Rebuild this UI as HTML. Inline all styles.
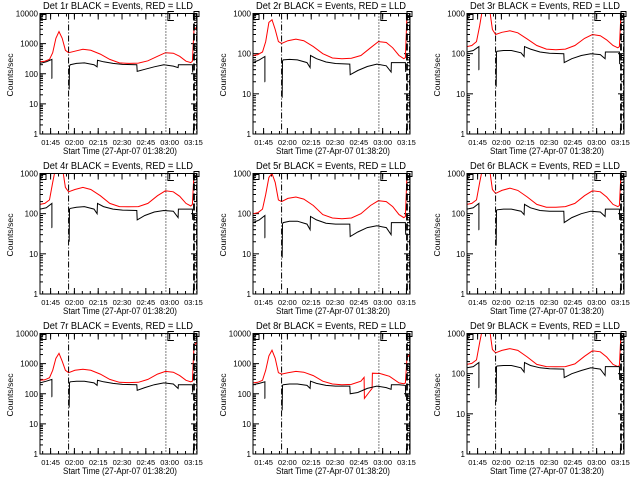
<!DOCTYPE html>
<html><head><meta charset="utf-8">
<style>
html,body{margin:0;padding:0;background:#fff;}
svg{display:block;font-family:"Liberation Sans",sans-serif;}
</style></head>
<body>
<svg id="chart" width="640" height="480" viewBox="0 0 640 480" xmlns="http://www.w3.org/2000/svg">
<rect x="0" y="0" width="640" height="480" fill="#fff"/>
</svg>
<script>
// ---- data (minutes since 01:38:20, counts/sec) ----
const panelNames = ["Det 1r","Det 2r","Det 3r","Det 4r","Det 5r","Det 6r","Det 7r","Det 8r","Det 9r"];
const panelDecades = [4,3,3,3,3,3,4,4,3];
const xTickLabels = ["01:45","02:00","02:15","02:30","02:45","03:00","03:15"];
const xTickMinutes = [6.67,21.67,36.67,51.67,66.67,81.67,96.67];
const redTimes = [0,3,6,8,10,12,14,16,18,22,27,32,38,44,50,56,62,68,74,79,84,88,92,95,96,97,98.8];
const redTimes8 = [0,3,6,8,10,12,14,16,18,22,27,32,38,44,50,56,62,68,70,70.2,73,75,75.2,80,86,92,95,96,97,98.8];
const red1 = [250,260,300,500,1500,2500,1500,600,500,560,650,600,450,300,230,220,225,270,380,500,480,380,260,235,260,3000,3500];
const red2 = [90,95,110,200,600,700,400,200,180,210,230,210,150,100,78,75,77,90,140,200,190,140,90,75,80,1000,1000];
const red3 = [150,160,200,500,1500,2500,1500,400,300,340,370,330,230,160,130,125,130,160,240,300,280,220,160,140,150,1000,1000];
const red4 = [170,180,220,600,1500,2500,1500,450,350,400,450,400,280,180,150,148,150,180,280,370,350,270,180,155,170,1000,1000];
const red5 = [100,105,130,300,800,1000,600,220,200,240,260,230,160,95,78,75,78,100,160,210,200,150,95,80,85,1000,1000];
const red6 = [170,180,220,600,1500,2500,1500,400,320,380,430,380,260,170,145,145,150,180,280,370,350,260,170,150,160,1000,1000];
const red7 = [280,290,340,600,1500,2200,1200,600,500,600,650,600,450,300,240,235,240,300,450,550,520,400,280,250,260,4000,5000];
const red8 = [230,240,280,600,1800,2800,1500,500,450,500,550,520,400,260,210,200,205,260,350,70,110,150,480,470,380,230,215,230,1600,2000];
const red9 = [170,180,220,600,1500,2500,1500,400,330,380,420,380,260,170,150,148,150,175,270,370,350,260,170,150,160,1000,1000];
const blackTimes = [0,4,7.5,7.5,7.6,12,18.4,18.6,19,23,28,34,36,36.2,40,46,52,61,61.2,66,72,78,84,87,87.2,92,96,96.2];
const black1 = [220,250,300,70,70,null,30,180,200,220,230,200,170,280,250,220,205,200,120,140,170,200,180,160,200,200,200,110];
const black2 = [60,70,85,20,20,null,8,65,70,72,70,60,45,90,75,62,57,55,30,38,48,55,50,35,60,60,60,35];
const black3 = [110,120,150,40,40,null,15,110,115,120,120,105,85,150,130,110,102,100,60,75,90,100,95,75,110,110,110,55];
const black4 = [130,140,180,45,45,null,20,130,135,145,150,130,100,180,150,130,123,120,70,90,110,120,115,80,130,130,130,70];
const black5 = [60,70,90,25,25,null,8,55,60,65,65,55,40,85,70,58,55,55,27,35,45,50,45,30,60,60,60,30];
const black6 = [130,140,180,40,40,null,16,120,125,130,130,115,95,170,140,120,115,115,60,80,100,115,110,85,130,130,130,70];
const black7 = [230,260,300,80,80,null,35,230,250,260,260,230,190,280,250,220,205,200,130,160,200,230,210,150,200,200,200,110];
const black8 = [200,220,250,70,70,null,28,190,200,210,210,190,150,260,220,190,180,180,100,110,150,180,160,140,200,200,190,80];
const black9 = [140,150,190,45,45,null,20,150,155,160,160,140,110,190,160,140,132,130,80,100,120,140,130,90,150,150,150,70];
const redSeries = [red1,red2,red3,red4,red5,red6,red7,red8,red9];
const blackSeries = [black1,black2,black3,black4,black5,black6,black7,black8,black9];
const markerMinutes = {dashdot1:18, dotted:79.3, dashed:97, dashdot2:98.6};

const NS="http://www.w3.org/2000/svg";
const svg=document.getElementById('chart');
function mk(tag,attrs,parent){const e=document.createElementNS(NS,tag);for(const k in attrs)e.setAttribute(k,attrs[k]);(parent||svg).appendChild(e);return e;}

const L=40,R=197,T=13.5,B=134,XMAX=98.9;
for(let p=0;p<9;p++){
  const ox=Math.round((p%3)*213.33), oy=Math.floor(p/3)*160;
  const g=mk('g',{transform:`translate(${ox},${oy})`});
  
  
  const dec=panelDecades[p];
  const xs=t=>L+(t/XMAX)*(R-L);
  const ys=v=>B-(Math.log10(v)/dec)*(B-T);
  const cid='clip'+p;
  const cp=mk('clipPath',{id:cid},g);mk('rect',{x:L,y:T,width:R-L,height:B-T},cp);
  const title=mk('text',{x:118,y:9,'font-size':10,'text-anchor':'middle',textLength:150,lengthAdjust:'spacingAndGlyphs',fill:'#000'},g);
  title.textContent=panelNames[p]+" BLACK = Events, RED = LLD";
  
  
  const yl=mk('text',{x:0,y:0,'font-size':8,'text-anchor':'middle',transform:`translate(13,75) rotate(-90)`,textLength:43,lengthAdjust:'spacingAndGlyphs'},g);
  yl.textContent="Counts/sec";
  
  
  const xl=mk('text',{x:120,y:154,'font-size':9,'text-anchor':'middle',textLength:114,lengthAdjust:'spacingAndGlyphs'},g);
  xl.textContent="Start Time (27-Apr-07 01:38:20)";
  
  
  for(let d=0;d<=dec;d++){
    const y=ys(Math.pow(10,d));
    mk('line',{x1:L,x2:L+6,y1:y,y2:y,stroke:'#000','stroke-width':1},g);
    mk('line',{x1:R,x2:R-6,y1:y,y2:y,stroke:'#000','stroke-width':1},g);
    const tl=mk('text',{x:L-2,y:y+3,'font-size':8,'text-anchor':'end'},g);
    tl.textContent=String(Math.pow(10,d));
    
    
    if(d<dec){for(let m=2;m<10;m++){const yy=ys(m*Math.pow(10,d));
      mk('line',{x1:L,x2:L+3,y1:yy,y2:yy,stroke:'#000','stroke-width':1},g);
      mk('line',{x1:R,x2:R-3,y1:yy,y2:yy,stroke:'#000','stroke-width':1},g);}}
  }
  xTickMinutes.forEach((t,i)=>{
    const x=xs(t);
    mk('line',{x1:x,x2:x,y1:B,y2:B-6,stroke:'#000'},g);
    mk('line',{x1:x,x2:x,y1:T,y2:T+6,stroke:'#000'},g);
    const tl=mk('text',{x:x,y:145,'font-size':7.5,'text-anchor':'middle'},g);
    tl.textContent=xTickLabels[i];
    
    
  });
  for(let t=xTickMinutes[0]-5;t<XMAX;t+=5){const x=xs(t);
    mk('line',{x1:x,x2:x,y1:B,y2:B-3,stroke:'#000'},g);
    mk('line',{x1:x,x2:x,y1:T,y2:T+3,stroke:'#000'},g);}
  const dg=mk('g',{'clip-path':`url(#${cid})`},g);
  const rt=(p===7)?redTimes8:redTimes;
  const rv=redSeries[p];
  let dr='';rv.forEach((v,i)=>{dr+=(i?'L':'M')+xs(rt[i]).toFixed(1)+','+ys(v).toFixed(1);});
  const rp=mk('path',{d:dr,fill:'none',stroke:'#ff0000','stroke-width':1},dg);
  
  
  const bv=blackSeries[p];
  let db='',pen=false;bv.forEach((v,i)=>{if(v===null){pen=false;return;}db+=(pen?'L':'M')+xs(blackTimes[i]).toFixed(1)+','+ys(v).toFixed(1);pen=true;});
  const bp=mk('path',{d:db,fill:'none',stroke:'#000','stroke-width':1},dg);
  
  
  const v1=mk('line',{x1:xs(markerMinutes.dashdot1),x2:xs(markerMinutes.dashdot1),y1:T,y2:B,stroke:'#000','stroke-dasharray':'6,2,1,2'},g);
  
  
  const v2=mk('line',{x1:xs(markerMinutes.dotted),x2:xs(markerMinutes.dotted),y1:T,y2:B,stroke:'#000','stroke-dasharray':'1,2'},g);
  
  
  const v3=mk('line',{x1:xs(markerMinutes.dashed),x2:xs(markerMinutes.dashed),y1:T,y2:B,stroke:'#000','stroke-width':1.8,'stroke-dasharray':'7,3'},g);
  
  
  const v4=mk('line',{x1:xs(markerMinutes.dashdot2),x2:xs(markerMinutes.dashdot2),y1:T,y2:B,stroke:'#000','stroke-dasharray':'6,2,1,2'},g);
  
  
  mk('rect',{x:L+1,y:T+1,width:5,height:5,fill:'none',stroke:'#000'},g);
  mk('path',{d:`M${xs(markerMinutes.dotted)+8},${T+7}H${xs(markerMinutes.dotted)+2}V${T-2}H${xs(markerMinutes.dotted)+8}`,fill:'none',stroke:'#000'},g);
  mk('rect',{x:R-3,y:T-2,width:5,height:5,fill:'none',stroke:'#000'},g);
  const fr=mk('rect',{x:L,y:T,width:R-L,height:B-T,fill:'none',stroke:'#000','stroke-width':1},g);
  
  
}
</script>
</body></html>
